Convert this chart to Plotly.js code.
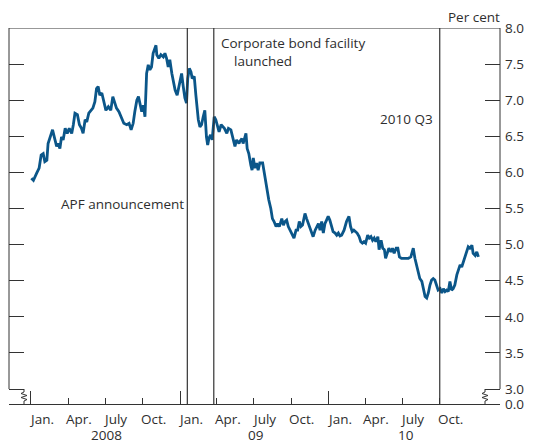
<!DOCTYPE html>
<html>
<head>
<meta charset="utf-8">
<script src="https://cdn.plot.ly/plotly-3.0.1.min.js"></script>
<style>
  html, body { margin: 0; padding: 0; background: #fff; }
  #chart { width: 533px; height: 445px; }
</style>
</head>
<body>
<div id="chart"></div>
<script>
// ---- Data ----
const dates = [
  "2008-01-02","2008-01-07","2008-01-15","2008-01-21","2008-01-26","2008-01-31","2008-02-04","2008-02-09","2008-02-12","2008-02-19",
  "2008-02-23","2008-02-29","2008-03-04","2008-03-08","2008-03-12","2008-03-16","2008-03-20","2008-03-25","2008-03-30","2008-04-04",
  "2008-04-10","2008-04-14","2008-04-18","2008-04-24","2008-04-29","2008-05-04","2008-05-08","2008-05-13","2008-05-17","2008-05-22",
  "2008-05-27","2008-06-01","2008-06-06","2008-06-10","2008-06-14","2008-06-18","2008-06-23","2008-06-28","2008-07-03","2008-07-09",
  "2008-07-15","2008-07-20","2008-07-24","2008-07-29","2008-08-04","2008-08-11","2008-08-16","2008-08-23","2008-08-29","2008-09-03",
  "2008-09-08","2008-09-12","2008-09-17","2008-09-21","2008-09-29","2008-10-03","2008-10-07","2008-10-11","2008-10-15","2008-10-19",
  "2008-10-23","2008-10-27","2008-11-01","2008-11-03","2008-11-05","2008-11-10","2008-11-15","2008-11-21","2008-11-25","2008-11-29",
  "2008-12-03","2008-12-07","2008-12-12","2008-12-16","2008-12-20","2008-12-25","2008-12-30","2009-01-05","2009-01-09","2009-01-13",
  "2009-01-17","2009-01-20","2009-01-24","2009-01-28","2009-01-31","2009-02-05","2009-02-09","2009-02-12","2009-02-15","2009-02-19",
  "2009-02-23","2009-02-27","2009-03-03","2009-03-07","2009-03-10","2009-03-13","2009-03-17","2009-03-21","2009-03-26","2009-03-30",
  "2009-04-03","2009-04-07","2009-04-12","2009-04-16","2009-04-20","2009-04-26","2009-04-30","2009-05-06","2009-05-12","2009-05-16",
  "2009-05-20","2009-05-26","2009-05-28","2009-06-02","2009-06-05","2009-06-10","2009-06-12","2009-06-15","2009-06-19","2009-06-24",
  "2009-06-27","2009-06-30","2009-07-04","2009-07-08","2009-07-12","2009-07-16","2009-07-23","2009-07-26","2009-07-30","2009-08-03",
  "2009-08-07","2009-08-12","2009-08-16","2009-08-20","2009-08-25","2009-08-29","2009-09-02","2009-09-08","2009-09-12","2009-09-16",
  "2009-09-20","2009-09-24","2009-09-28","2009-10-05","2009-10-08","2009-10-13","2009-10-17","2009-10-21","2009-10-25","2009-10-29",
  "2009-11-04","2009-11-08","2009-11-12","2009-11-16","2009-11-20","2009-11-24","2009-11-29","2009-12-03","2009-12-07","2009-12-11",
  "2009-12-15","2009-12-19","2009-12-23","2009-12-27","2009-12-31","2010-01-04","2010-01-09","2010-01-12","2010-01-17","2010-01-21",
  "2010-01-25","2010-01-29","2010-02-02","2010-02-08","2010-02-14","2010-02-20","2010-02-24","2010-02-28","2010-03-04","2010-03-09",
  "2010-03-12","2010-03-17","2010-03-21","2010-03-25","2010-03-29","2010-04-02","2010-04-07","2010-04-11","2010-04-15","2010-04-19",
  "2010-04-23","2010-04-27","2010-05-02","2010-05-05","2010-05-10","2010-05-14","2010-05-18","2010-05-21","2010-05-25","2010-05-29",
  "2010-06-03","2010-06-07","2010-06-11","2010-06-16","2010-06-20","2010-06-24","2010-06-29","2010-07-08","2010-07-16","2010-07-22",
  "2010-07-28","2010-08-01","2010-08-05","2010-08-09","2010-08-13","2010-08-18","2010-08-22","2010-08-26","2010-08-30","2010-09-03",
  "2010-09-07","2010-09-11","2010-09-15","2010-09-19","2010-09-23","2010-09-27","2010-10-02","2010-10-06","2010-10-10","2010-10-14",
  "2010-10-18","2010-10-22","2010-10-26","2010-10-30","2010-11-03","2010-11-07","2010-11-12","2010-11-16","2010-11-20","2010-11-24",
  "2010-11-28","2010-12-02","2010-12-06","2010-12-10","2010-12-14","2010-12-19","2010-12-22","2010-12-27","2010-12-31","2011-01-04"
];
const yields = [
  5.92,5.89,5.99,6.06,6.24,6.26,6.15,6.17,6.40,6.52,
  6.59,6.45,6.36,6.40,6.33,6.49,6.45,6.61,6.54,6.61,
  6.54,6.66,6.82,6.80,6.66,6.61,6.54,6.73,6.70,6.82,
  6.86,6.89,6.98,7.16,7.19,7.07,7.10,6.96,6.86,6.91,
  6.86,7.05,6.98,6.89,6.84,6.73,6.68,6.66,6.68,6.59,
  6.68,6.84,7.00,7.05,6.84,6.93,6.77,7.37,7.49,7.42,
  7.46,7.65,7.74,7.76,7.63,7.58,7.63,7.60,7.65,7.58,
  7.46,7.56,7.37,7.23,7.14,7.07,7.19,7.37,7.19,7.03,
  6.96,7.30,7.44,7.39,7.30,7.33,7.07,6.91,6.73,6.63,
  6.66,6.77,6.86,6.49,6.38,6.47,6.52,6.45,6.77,6.73,
  6.66,6.56,6.66,6.63,6.61,6.54,6.61,6.59,6.45,6.36,
  6.45,6.40,6.43,6.47,6.40,6.52,6.54,6.33,6.26,6.10,
  6.03,6.20,6.06,6.13,6.03,6.13,6.13,6.03,5.89,5.76,
  5.62,5.50,5.36,5.32,5.25,5.29,5.25,5.36,5.27,5.32,
  5.34,5.25,5.20,5.13,5.09,5.20,5.20,5.32,5.25,5.27,
  5.43,5.36,5.29,5.23,5.18,5.11,5.20,5.25,5.29,5.20,
  5.32,5.16,5.29,5.34,5.39,5.34,5.25,5.18,5.16,5.13,
  5.16,5.12,5.13,5.20,5.32,5.39,5.25,5.18,5.20,5.18,
  5.16,5.11,5.04,5.02,5.04,5.02,5.13,5.09,5.11,5.06,
  5.09,5.04,5.11,4.93,5.06,4.95,4.93,4.81,4.90,4.95,
  4.90,4.95,4.88,4.95,4.95,4.83,4.81,4.81,4.81,4.83,
  4.95,4.81,4.72,4.65,4.53,4.49,4.39,4.28,4.26,4.33,
  4.44,4.51,4.53,4.51,4.44,4.37,4.39,4.33,4.39,4.35,
  4.37,4.35,4.49,4.37,4.39,4.44,4.58,4.65,4.72,4.69,
  4.76,4.83,4.90,4.97,4.95,4.99,4.88,4.85,4.90,4.83
];

// Event markers
const eventDates  = ["2009-01-19", "2009-03-25", "2010-10-01"];
const eventLabels = ["APF announcement", "Corporate bond facility", "launched", "2010 Q3"];

// Axis ticks / labels
const quarterTicks  = ["2008-01-01","2008-04-01","2008-07-01","2008-10-01",
                       "2009-01-01","2009-04-01","2009-07-01","2009-10-01",
                       "2010-01-01","2010-04-01","2010-07-01","2010-10-01"];
const quarterLabels = ["Jan.","Apr.","July","Oct.","Jan.","Apr.","July","Oct.","Jan.","Apr.","July","Oct."];
const yearTicks     = ["2008-01-01","2009-01-01","2010-01-01"];
const yearLabelPos  = ["2008-07-05","2009-07-05","2010-07-10"];
const yearLabels    = ["2008","09","10"];
const yTickVals     = [3.0,3.5,4.0,4.5,5.0,5.5,6.0,6.5,7.0,7.5,8.0];
const yTickText     = ["3.0","3.5","4.0","4.5","5.0","5.5","6.0","6.5","7.0","7.5","8.0"];
const yBreakLabel   = "0.0";
const yUnit         = "Per cent";

// ---- Layout geometry ----
const W = 533, H = 445;
const M = {l: 9, r: 33, t: 28, b: 41};
const pxPerUnit = 361 / 5;            // 3.0 -> 8.0 spans 361 px
const yBottom = 3 - 15 / pxPerUnit;   // axis-break strip of 15 px
const TXT = '#2e2e2e';
const LINE = '#333333';
const FONT = '"Open Sans", "Noto Sans", sans-serif';
const FS = 13.5;

const trace = {
  x: dates, y: yields, type: 'scatter', mode: 'lines',
  line: {color: '#0b5689', width: 2.8},
  hoverinfo: 'skip'
};

const shapes = [];
// frame top / left / right (left and right stop at 3.0 because of the axis break)
shapes.push({type:'line', xref:'paper', yref:'y', x0:0, x1:1, y0:8, y1:8, line:{color:LINE, width:1}});
shapes.push({type:'line', xref:'paper', yref:'y', x0:0, x1:0, y0:3, y1:8, line:{color:LINE, width:1}});
shapes.push({type:'line', xref:'paper', yref:'y', x0:1, x1:1, y0:3, y1:8, line:{color:LINE, width:1}});
// break zig-zags
const zigL = "M15,0 L15,-3 L12,-4.5 L18,-6.5 L12,-8.5 L18,-10.5 L15,-12 L15,-15";
const zigR = "M-15,0 L-15,-3 L-18,-4.5 L-12,-6.5 L-18,-8.5 L-12,-10.5 L-15,-12 L-15,-15";
shapes.push({type:'path', xref:'paper', yref:'y', xsizemode:'pixel', ysizemode:'pixel', xanchor:0, yanchor:3, path:zigL, line:{color:LINE, width:1}});
shapes.push({type:'path', xref:'paper', yref:'y', xsizemode:'pixel', ysizemode:'pixel', xanchor:1, yanchor:3, path:zigR, line:{color:LINE, width:1}});
// event lines
eventDates.forEach(d => shapes.push({type:'line', xref:'x', yref:'paper', x0:d, x1:d, y0:0, y1:1, line:{color:LINE, width:1.2}}));

const annotations = [];
const tf = {family: FONT, size: FS, color: TXT};
// quarter labels, left-aligned just left of each tick
quarterTicks.forEach((d, i) => annotations.push({
  xref:'x', yref:'paper', x:d, y:-0.04, xanchor:'left', yanchor:'middle', xshift:-4,
  text:quarterLabels[i], showarrow:false, font:tf
}));
yearLabelPos.forEach((d, i) => annotations.push({
  xref:'x', yref:'paper', x:d, y:-0.0825, xanchor:'center', yanchor:'middle',
  text:yearLabels[i], showarrow:false, font:tf
}));
// event annotations
annotations.push({xref:'paper', yref:'paper', x:0.1024, y:0.532, xanchor:'left', yanchor:'middle', text:eventLabels[0], showarrow:false, font:tf});
annotations.push({xref:'paper', yref:'paper', x:0.4277, y:0.961, xanchor:'left', yanchor:'middle', text:eventLabels[1], showarrow:false, font:tf});
annotations.push({xref:'paper', yref:'paper', x:0.4542, y:0.9112, xanchor:'left', yanchor:'middle', text:eventLabels[2], showarrow:false, font:tf});
annotations.push({xref:'paper', yref:'paper', x:0.8666, y:0.758, xanchor:'right', yanchor:'middle', text:eventLabels[3], showarrow:false, font:tf});
// unit
annotations.push({xref:'paper', yref:'paper', x:1.004, y:1.0293, xanchor:'right', yanchor:'middle', text:yUnit, showarrow:false, font:tf});

const layout = {
  width: W, height: H,
  margin: M,
  paper_bgcolor: '#fff', plot_bgcolor: '#fff',
  showlegend: false,
  font: {family: FONT, size: FS, color: TXT},
  xaxis: {
    type: 'date',
    range: ['2007-11-08', '2011-02-26'],
    showgrid: false, zeroline: false,
    showline: true, linecolor: LINE, linewidth: 1,
    tickmode: 'array', tickvals: yearTicks,
    ticks: 'inside', ticklen: 13, tickwidth: 1, tickcolor: LINE,
    showticklabels: false,
    minor: {tickmode: 'array', tickvals: quarterTicks, ticks: 'inside', ticklen: 6, tickwidth: 1, tickcolor: LINE, showgrid: false}
  },
  yaxis: {
    range: [yBottom, 8],
    side: 'right',
    showgrid: false, zeroline: false, showline: false,
    tickmode: 'array',
    tickvals: [yBottom].concat(yTickVals),
    ticktext: [yBreakLabel].concat(yTickText),
    ticks: 'inside', ticklen: 15, tickwidth: 1, tickcolor: LINE,
    mirror: 'ticks',
    ticklabelstandoff: 4,
    tickfont: {family: FONT, size: FS, color: TXT}
  },
  shapes: shapes,
  annotations: annotations
};

Plotly.newPlot('chart', [trace], layout, {staticPlot: true, displayModeBar: false});
</script>
</body>
</html>
